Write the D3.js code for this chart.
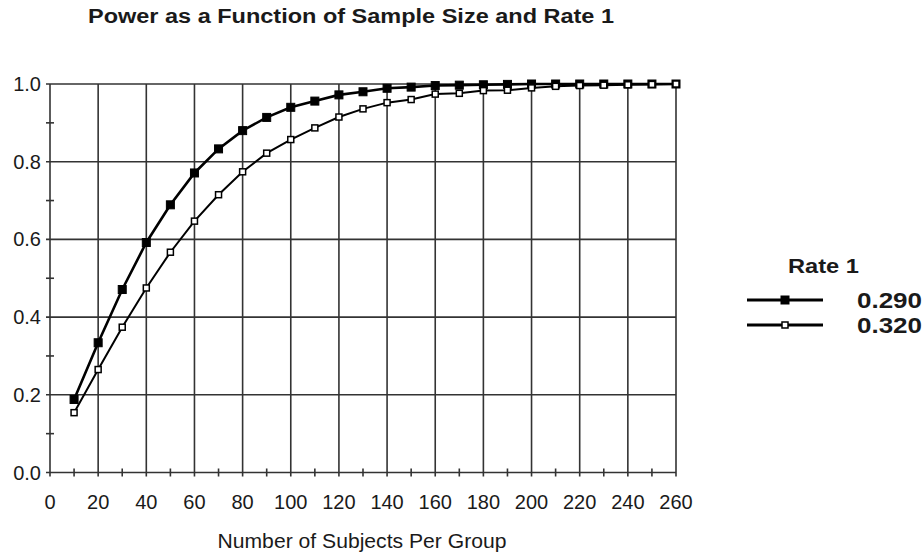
<!DOCTYPE html>
<html>
<head>
<meta charset="utf-8">
<script src="https://cdn.jsdelivr.net/npm/d3@7.9.0/dist/d3.min.js"></script>
<style>
  body { margin: 0; background: #fff; }
  text { font-family: Arial, "Liberation Sans", sans-serif; fill: #1a1a1a; }
</style>
</head>
<body>
<svg id="chart" width="924" height="556"></svg>
<script>
// data
const sampleSizes = [10, 20, 30, 40, 50, 60, 70, 80, 90, 100, 110, 120, 130,
  140, 150, 160, 170, 180, 190, 200, 210, 220, 230, 240, 250, 260];
const power290 = [0.188, 0.334, 0.471, 0.592, 0.689, 0.771, 0.833, 0.880, 0.914,
  0.940, 0.956, 0.972, 0.980, 0.989, 0.992, 0.996, 0.997, 0.998, 0.999, 1.0,
  1.0, 1.0, 1.0, 1.0, 1.0, 1.0];
const power320 = [0.154, 0.265, 0.374, 0.475, 0.567, 0.647, 0.715, 0.774, 0.822,
  0.857, 0.887, 0.915, 0.936, 0.952, 0.960, 0.974, 0.976, 0.983, 0.984, 0.990,
  0.994, 0.996, 0.997, 0.998, 0.999, 1.0];
const seriesNames = ['0.290', '0.320'];
const xTicks = [0, 20, 40, 60, 80, 100, 120, 140, 160, 180, 200, 220, 240, 260];
const xMinor = [10, 30, 50, 70, 90, 110, 130, 150, 170, 190, 210, 230, 250];
const yTicks = [0, 0.2, 0.4, 0.6, 0.8, 1.0];
const yMinor = [0.1, 0.3, 0.5, 0.7, 0.9];

const svg = d3.select('#chart');

// plot area
const pLeft = 50, pRight = 676, pTop = 84, pBottom = 472.5;

let x = d3.scaleLinear().domain([0, 260]).range([pLeft, pRight]);
let y = d3.scaleLinear().domain([0, 1]).range([pBottom, pTop]);

// title
svg.append('text')
  .attr('x', 351).attr('y', 23)
  .attr('text-anchor', 'middle')
  .attr('textLength', 526).attr('lengthAdjust', 'spacingAndGlyphs')
  .style('font-size', '20px').style('font-weight', 'bold')
  .text('Power as a Function of Sample Size and Rate 1');

// grid
const grid = svg.append('g').attr('stroke', '#333').attr('stroke-width', 1.6);
grid.selectAll('.vg').data(xTicks.slice(1)).join('line')
  .attr('x1', d => x(d)).attr('x2', d => x(d))
  .attr('y1', pTop).attr('y2', pBottom + 4);
grid.selectAll('.hg').data(yTicks.slice(1)).join('line')
  .attr('x1', pLeft - 4).attr('x2', pRight)
  .attr('y1', d => y(d)).attr('y2', d => y(d));

// axes lines
grid.append('line').attr('x1', pLeft).attr('x2', pLeft).attr('y1', pTop).attr('y2', pBottom + 4);
grid.append('line').attr('x1', pLeft - 4).attr('x2', pRight).attr('y1', pBottom).attr('y2', pBottom);

// minor ticks
grid.selectAll('.xm').data(xMinor).join('line')
  .attr('x1', d => x(d)).attr('x2', d => x(d))
  .attr('y1', pBottom - 4).attr('y2', pBottom + 4);
grid.selectAll('.ym').data(yMinor).join('line')
  .attr('x1', pLeft - 4).attr('x2', pLeft + 4)
  .attr('y1', d => y(d)).attr('y2', d => y(d));

// tick labels
svg.selectAll('.xl').data(xTicks).join('text')
  .attr('x', d => x(d)).attr('y', 509)
  .attr('text-anchor', 'middle')
  .style('font-size', '20px')
  .text(d => d);
svg.selectAll('.yl').data(yTicks).join('text')
  .attr('x', 41).attr('y', d => y(d) + 7)
  .attr('text-anchor', 'end')
  .style('font-size', '20px')
  .text(d => d3.format('.1f')(d));

// axis title
svg.append('text')
  .attr('x', 362).attr('y', 548)
  .attr('text-anchor', 'middle')
  .attr('textLength', 289).attr('lengthAdjust', 'spacingAndGlyphs')
  .style('font-size', '20px')
  .text('Number of Subjects Per Group');

// series
const line = d3.line().x((d, i) => x(sampleSizes[i])).y(d => y(d));
const series = [power290, power320];
const filled = [true, false];

series.forEach((vals, s) => {
  svg.append('path')
    .attr('d', line(vals))
    .attr('fill', 'none')
    .attr('stroke', '#000')
    .attr('stroke-width', filled[s] ? 2.6 : 2);
});
series.forEach((vals, s) => {
  const sz = filled[s] ? 8 : 6;
  svg.append('g').selectAll('rect').data(vals).join('rect')
    .attr('x', (d, i) => x(sampleSizes[i]) - sz / 2)
    .attr('y', d => y(d) - sz / 2)
    .attr('width', sz).attr('height', sz)
    .attr('fill', filled[s] ? '#000' : '#fff')
    .attr('stroke', '#000')
    .attr('stroke-width', filled[s] ? 1 : 1.5);
});

// legend
const lg = svg.append('g');
lg.append('text')
  .attr('x', 788).attr('y', 273)
  .attr('textLength', 71).attr('lengthAdjust', 'spacingAndGlyphs')
  .style('font-size', '21px').style('font-weight', 'bold')
  .text('Rate 1');
seriesNames.forEach((name, s) => {
  const ly = 300 + s * 25;
  lg.append('line')
    .attr('x1', 747).attr('x2', 823).attr('y1', ly).attr('y2', ly)
    .attr('stroke', '#000').attr('stroke-width', 2.8);
  const sz = filled[s] ? 8 : 6;
  lg.append('rect')
    .attr('x', 785 - sz / 2).attr('y', ly - sz / 2)
    .attr('width', sz).attr('height', sz)
    .attr('fill', filled[s] ? '#000' : '#fff')
    .attr('stroke', '#000').attr('stroke-width', filled[s] ? 1 : 1.5);
  lg.append('text')
    .attr('x', 857).attr('y', ly + 8)
    .attr('textLength', 65).attr('lengthAdjust', 'spacingAndGlyphs')
    .style('font-size', '22px').style('font-weight', 'bold')
    .text(name);
});
</script>
</body>
</html>
